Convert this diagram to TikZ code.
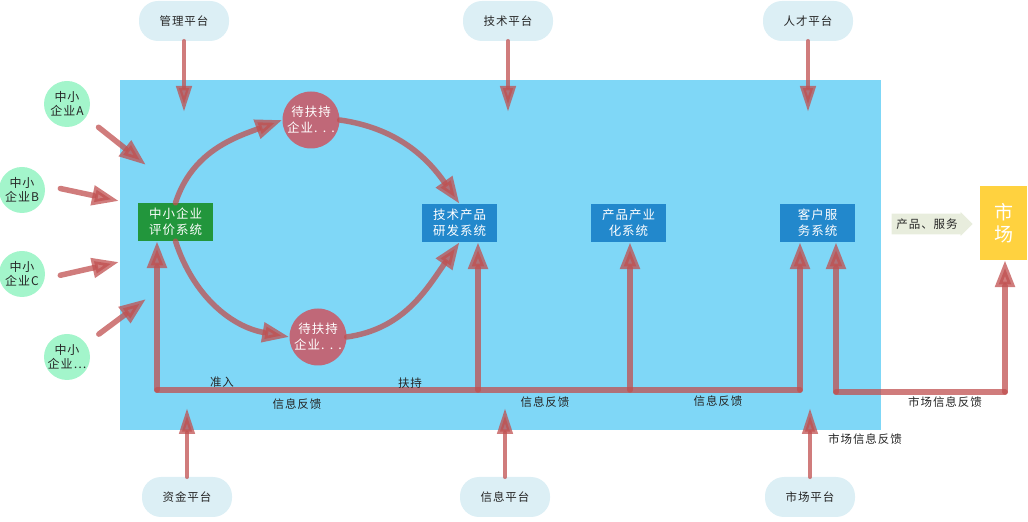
\documentclass[tikz,border=0pt]{standalone}
\usepackage{fontspec}
\setmainfont[LetterSpace=8]{Noto Sans CJK SC}
\usepackage{xcolor}
\usepackage{tikz}
\usetikzlibrary{arrows.meta}
\usetikzlibrary{shapes.arrows}
\definecolor{bgblue}{HTML}{7FD7F7}
\definecolor{platcol}{HTML}{DCEFF5}
\definecolor{smecol}{HTML}{A3F5CB}
\definecolor{evalcol}{HTML}{22963C}
\definecolor{waitcol}{HTML}{C06878}
\definecolor{sysblue}{HTML}{2288CC}
\definecolor{mktcol}{HTML}{FFD23F}
\definecolor{prodcol}{HTML}{E8EDDD}
\definecolor{flowred}{HTML}{C05050}
\colorlet{txtdark}{black!85}
\newcommand\labfont{\fontsize{11.5}{13}\selectfont}
\newcommand\boxfont{\fontsize{12.5}{16}\selectfont}
\tikzstyle{flowhead}=[>/.tip={Triangle[length=27pt,width=19pt]}]
\tikzstyle{flow}=[line width=5.5pt,draw=flowred,opacity=.75,line cap=round,flowhead,->]
\tikzstyle{feed}=[flow,line width=4.5pt,>/.tip={Triangle[length=26pt,width=15pt]}]
\tikzstyle{platform}=[fill=platcol,rounded corners=19pt,minimum width=90pt,minimum height=40pt,text=txtdark,font=\labfont]
\tikzstyle{sme}=[circle,fill=smecol,minimum size=46pt,inner sep=0pt,align=center,text=txtdark,font=\fontsize{12}{14}\selectfont]
\tikzstyle{wait}=[circle,fill=waitcol,minimum size=57pt,inner sep=0pt,align=center,text=white,font=\boxfont]
\tikzstyle{sys}=[fill=sysblue,minimum width=75pt,minimum height=38pt,align=center,text=white,font=\boxfont]
\tikzstyle{lab}=[text=txtdark,font=\labfont]

\begin{document}
\begin{tikzpicture}[x=1pt,y=1pt]
	\useasboundingbox (0,0) rectangle (1028,522);
	\fill[bgblue] (120,92) rectangle (881,442);
	% platforms
	\node[platform] (pmgmt)   at (184,501) {管理平台};
	\node[platform] (ptech)   at (508,501) {技术平台};
	\node[platform] (ptalent) at (808,501) {人才平台};
	\node[platform] (pfund)   at (187,25)  {资金平台};
	\node[platform] (pinfo)   at (505,25)  {信息平台};
	\node[platform] (pmarket) at (810,25)  {市场平台};
	% small firms
	\node[sme] (smeA) at (67,418) {中小\\企业A};
	\node[sme] (smeB) at (22,332) {中小\\企业B};
	\node[sme] (smeC) at (22,248) {中小\\企业C};
	\node[sme] (smeD) at (67,165) {中小\\企业…};
	% systems
	\node[sys,fill=evalcol] (eval) at (175.5,300) {中小企业\\评价系统};
	\node[wait] (waitA) at (311,402) {待扶持\\企业. . .};
	\node[wait] (waitB) at (318,185) {待扶持\\企业. . .};
	\node[sys] (rd) at (459.5,299) {技术产品\\研发系统};
	\node[sys] (pi) at (628.5,299) {产品产业\\化系统};
	\node[sys] (cs) at (817.5,299) {客户服\\务系统};
	\node[fill=mktcol,minimum width=47pt,minimum height=74pt,align=center,text=white,
	      font=\fontsize{19}{22}\selectfont] (mkt) at (1003.5,299) {市\\场};
	\node[single arrow,fill=prodcol,minimum height=81pt,minimum width=24pt,
	      single arrow head extend=1.5pt,text=txtdark,font=\labfont] (prod) at (927,298) {产品、服务};
	% arrow ends
	\coordinate (tmgmt) at (184,410);
	\coordinate (ttech) at (508,410);
	\coordinate (ttalent) at (808,410);
	\coordinate (tfund) at (187,114);
	\coordinate (tinfo) at (505,114);
	\coordinate (tmarket) at (810,114);
	\coordinate (tA) at (146,357);
	\coordinate (tB) at (119,321);
	\coordinate (tC) at (119,260);
	\coordinate (tD) at (146,223);
	\coordinate (bEval) at (157,132);
	\coordinate (bRd) at (478,132);
	\coordinate (bPi) at (630,132);
	\coordinate (bCs) at (800,132);
	\coordinate (mCs) at (836,130);
	\coordinate (mMk) at (1005,130);
	% platform arrows
	\draw[feed] (pmgmt) -- (tmgmt);
	\draw[feed] (ptech) -- (ttech);
	\draw[feed] (ptalent) -- (ttalent);
	\draw[feed] (pfund) -- (tfund);
	\draw[feed] (pinfo) -- (tinfo);
	\draw[feed] (pmarket) -- (tmarket);
	\draw[flow,shorten <=16pt] (smeA.-35) -- (tA);
	\draw[flow,shorten <=16pt] (smeB.12) -- (tB);
	\draw[flow,shorten <=16pt] (smeC.-12) -- (tC);
	\draw[flow,shorten <=16pt] (smeD.35) -- (tD);
	% support loop
	\draw[flow] (eval.north) to[out=72,in=200] (waitA.west);
	\draw[flow] (waitA.east) to[out=-8,in=125] (rd.north);
	\draw[flow] (eval.south) to[out=-72,in=170] (waitB.west);
	\draw[flow] (waitB.east) to[out=8,in=235] (rd.south);
	% feedback
	\draw[flow,-] (bEval) -- (bCs);
	\draw[flow] (bEval) -- (bEval |- eval.south);
	\draw[flow] (bRd) -- (bRd |- rd.south);
	\draw[flow] (bPi) -- (bPi |- pi.south);
	\draw[flow] (bCs) -- (bCs |- cs.south);
	\draw[flow,-] (mCs) -- (mMk);
	\draw[flow] (mCs) -- (mCs |- cs.south);
	\draw[flow] (mMk) -- (mMk |- mkt.south);
	% labels
	\node[lab] (lin)  at (222,140) {准入};
	\node[lab] (lsup) at (410,139) {扶持};
	\node[lab] (lfb1) at (297,118) {信息反馈};
	\node[lab] (lfb2) at (545,120) {信息反馈};
	\node[lab] (lfb3) at (718,121) {信息反馈};
	\node[lab] (lmk1) at (945,120) {市场信息反馈};
	\node[lab] (lmk2) at (865,83)  {市场信息反馈};
\end{tikzpicture}
\end{document}
